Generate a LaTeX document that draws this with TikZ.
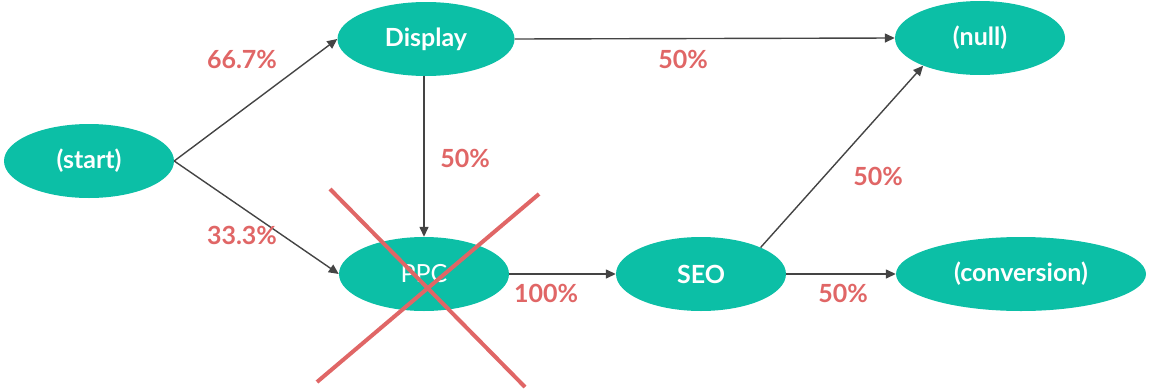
\documentclass[tikz,border=0pt]{standalone}
\usepackage{fontspec}
\setmainfont{Lato}
\usetikzlibrary{shapes.geometric,arrows.meta}
\definecolor{teal}{HTML}{0CBFA6}
\definecolor{pct}{HTML}{E06666}
\definecolor{edge}{HTML}{444444}
\begin{document}
\begin{tikzpicture}[x=1pt,y=-1pt,
  state/.style={ellipse,fill=teal,draw=none,inner sep=0pt,minimum width=170pt,
    minimum height=74pt,text=white,font=\fontsize{25}{28}\selectfont\bfseries},
  flow/.style={draw=edge,line width=1.4pt,-{Triangle[length=10pt,width=9pt]}},
  share/.style={text=pct,font=\fontsize{25}{28}\selectfont\bfseries,inner sep=0pt},
  strike/.style={draw=pct,line width=4pt}]
\useasboundingbox (0,0) rectangle (1157,391);

% states of the path
\node[state] (start) at (89,161) {(start)};
\node[state,minimum width=177pt] (display) at (426,39) {Display};
\node[state] (null) at (980,38) {(null)};
\node[state,font=\fontsize{25}{28}\selectfont] (ppc) at (424,274) {PPC};
\node[state] (seo) at (701,274) {SEO};
\node[state,minimum width=250pt] (conv) at (1021,274) {(conversion)};

% transitions
\draw[flow] (start.east) -- (display.west);
\draw[flow] (start.east) -- (ppc.west);
\draw[flow] (display.east) -- (null.west);
\draw[flow] (display.south -| ppc.north) -- (ppc.north);
\draw[flow] (ppc.east) -- (seo.west);
\draw[flow] (seo.24) -- (null.206);
\draw[flow] (seo.east) -- (conv.west);

% transition shares
\node[share] (l1) at (242,59) {66.7\%};
\node[share] (l2) at (242,235) {33.3\%};
\node[share] (l3) at (683,59) {50\%};
\node[share] (l4) at (465,158) {50\%};
\node[share] (l5) at (546,293) {100\%};
\node[share] (l6) at (878,176) {50\%};
\node[share] (l7) at (843,293) {50\%};

% removed channel
\coordinate (xa) at (330,189);
\coordinate (xb) at (525,387);
\coordinate (xc) at (317,382);
\coordinate (xd) at (539,194);
\draw[strike] (xa) -- (xb);
\draw[strike] (xc) -- (xd);
\end{tikzpicture}
\end{document}
